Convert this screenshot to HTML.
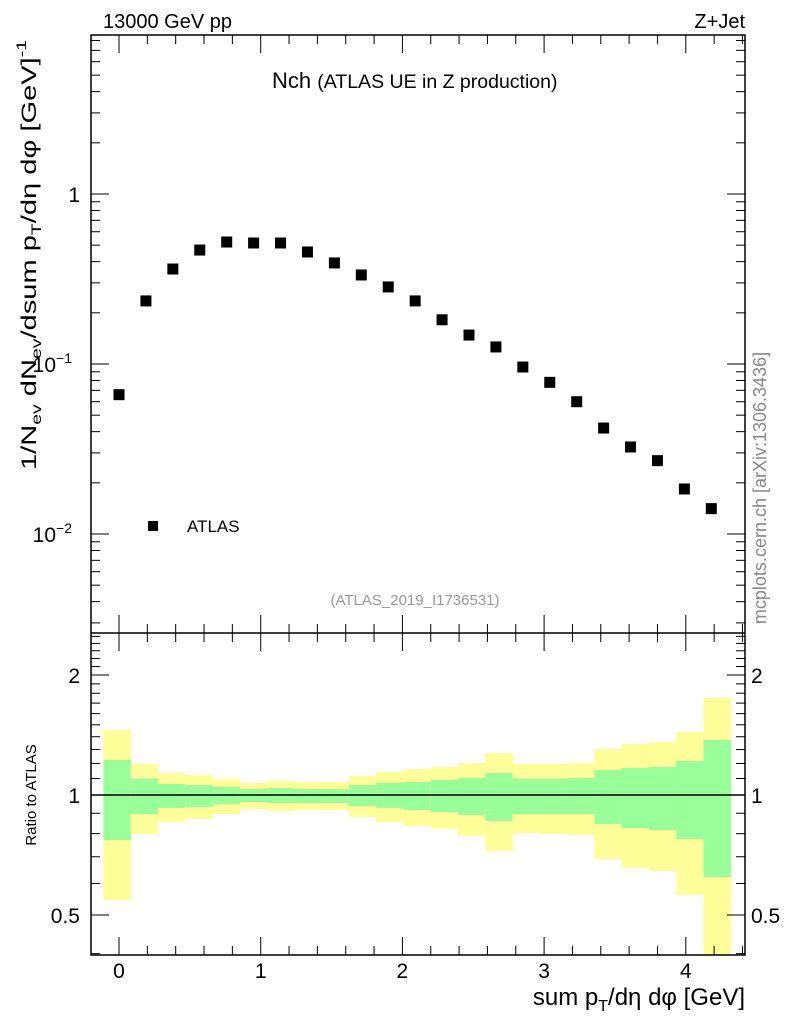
<!DOCTYPE html>
<html><head><meta charset="utf-8"><style>
body{margin:0;background:#fff;}
svg{display:block;font-family:"Liberation Sans",sans-serif;}
</style></head><body>
<svg id="c" width="786" height="1024" viewBox="0 0 786 1024" xmlns="http://www.w3.org/2000/svg">
<g id="bands"></g>
<g id="marks"></g>
<g id="axes"></g>
<text x="103" y="28" font-size="20">13000 GeV pp</text>
<text x="745" y="28" font-size="20" text-anchor="end">Z+Jet</text>
<text x="272" y="88" font-size="22">Nch <tspan font-size="19.5">(ATLAS UE in Z production)</tspan></text>
<text transform="translate(766,488) rotate(-90)" font-size="18" fill="#888" text-anchor="middle">mcplots.cern.ch [arXiv:1306.3436]</text>
<text x="415" y="605" font-size="15" fill="#999" text-anchor="middle">(ATLAS_2019_I1736531)</text>
<text transform="translate(36,470) rotate(-90)" font-size="21" textLength="430" lengthAdjust="spacingAndGlyphs">1/N<tspan font-size="14" dy="5">ev</tspan><tspan dy="-5"> dN</tspan><tspan font-size="14" dy="5">ev</tspan><tspan dy="-5">/dsum p</tspan><tspan font-size="14" dy="5">T</tspan><tspan dy="-5">/dη dφ  [GeV]</tspan><tspan font-size="14" dy="-10">-1</tspan></text>
<text transform="translate(36,795) rotate(-90)" font-size="15" text-anchor="middle">Ratio to ATLAS</text>
<text x="745" y="1005" font-size="24" text-anchor="end">sum p<tspan font-size="16" dy="6">T</tspan><tspan dy="-6">/dη dφ [GeV]</tspan></text>
<rect x="148" y="521" width="10" height="10" fill="#000"/>
<text x="187" y="532" font-size="17">ATLAS</text>
</svg>
<script>
const xCenters=[0,0.19,0.38,0.57,0.76,0.95,1.14,1.33,1.52,1.71,1.9,2.09,2.28,2.47,2.66,2.85,3.04,3.23,3.42,3.61,3.8,3.99,4.18];
const yValues=[0.066,0.235,0.362,0.468,0.522,0.515,0.515,0.456,0.393,0.334,0.284,0.235,0.182,0.148,0.126,0.096,0.078,0.060,0.042,0.0325,0.027,0.0184,0.0141];
const binEdgeStart=-0.11, binWidth=0.1925;
const yellowHi=[1.456,1.196,1.135,1.122,1.097,1.072,1.084,1.078,1.078,1.116,1.142,1.162,1.175,1.203,1.274,1.196,1.196,1.203,1.304,1.343,1.359,1.439,1.751];
const greenHi=[1.224,1.097,1.066,1.059,1.047,1.035,1.041,1.035,1.035,1.059,1.072,1.078,1.090,1.103,1.135,1.097,1.097,1.103,1.155,1.169,1.175,1.217,1.374];
const greenLo=[0.771,0.896,0.928,0.933,0.949,0.960,0.955,0.955,0.955,0.938,0.928,0.917,0.906,0.891,0.861,0.896,0.896,0.896,0.846,0.826,0.817,0.776,0.623];
const yellowLo=[0.545,0.798,0.856,0.871,0.896,0.922,0.912,0.917,0.917,0.881,0.856,0.836,0.822,0.789,0.724,0.803,0.798,0.794,0.691,0.656,0.645,0.562,0.35];
const xTickLabels=["0","1","2","3","4"];

const L=91,R=745,T=35,M=633,B=955;
const X=v=>119+v*141.7;
const Y=v=>194-Math.log10(v)*170;
const RY=v=>Math.max(T, Math.min(B, 795-Math.log10(v)*398.7));
const NS="http://www.w3.org/2000/svg";
function mk(p,tag,a){const e=document.createElementNS(NS,tag);for(const k in a)e.setAttribute(k,a[k]);p.appendChild(e);return e;}
const bands=document.getElementById('bands'),marks=document.getElementById('marks'),axes=document.getElementById('axes');
for(let i=0;i<xCenters.length;i++){
  const x0=X(binEdgeStart+i*binWidth),x1=X(binEdgeStart+(i+1)*binWidth);
  const y=mk(bands,'rect',{x:x0,y:RY(yellowHi[i]),width:x1-x0+0.3,height:RY(yellowLo[i])-RY(yellowHi[i]),fill:'#ffff99'});
  
  
  const g=mk(bands,'rect',{x:x0,y:RY(greenHi[i]),width:x1-x0+0.3,height:RY(greenLo[i])-RY(greenHi[i]),fill:'#99ff99'});
  
  
  const p=mk(marks,'rect',{x:X(xCenters[i])-5.5,y:Y(yValues[i])-5.5,width:11,height:11,fill:'#000'});
  
  
}
mk(axes,'line',{x1:L,x2:R,y1:RY(1),y2:RY(1),stroke:'#000','stroke-width':1.5});
mk(axes,'rect',{x:L,y:T,width:R-L,height:B-T,fill:'none',stroke:'#000','stroke-width':1.5});
mk(axes,'line',{x1:L,x2:R,y1:M,y2:M,stroke:'#000','stroke-width':1.5});
for(let k=-1;k<=22;k++){const v=k*0.2;const x=X(v);if(x<L||x>R)continue;
  const maj=Math.abs(v-Math.round(v))<1e-6;const len=maj?18:9;
  for(const [y0,d] of [[M,-1],[T,1],[B,-1],[M,1]])mk(axes,'line',{x1:x,x2:x,y1:y0,y2:y0+d*len,stroke:'#000'});
}
xTickLabels.forEach((s,i)=>{const t=mk(axes,'text',{x:X(i),y:978,'font-size':21,'text-anchor':'middle'});t.textContent=s;
  
  });
for(let e=-3;e<=0;e++)for(let m=1;m<=9;m++){const v=m*Math.pow(10,e);const y=Y(v);if(y<T||y>M)continue;
  const len=m==1?18:9;mk(axes,'line',{x1:L,x2:L+len,y1:y,y2:y,stroke:'#000'});mk(axes,'line',{x1:R,x2:R-len,y1:y,y2:y,stroke:'#000'});}
[["1",0],["10",-1],["10",-2]].forEach(([b,e])=>{const t=mk(axes,'text',{x:e==0?80:72,y:Y(Math.pow(10,e))+8,'font-size':21,'text-anchor':'end'});
  t.textContent=b;if(e<0){const s=mk(t,'tspan',{'font-size':14,dy:-9});s.textContent='−'+(-e);}
  
  });
for(let k=4;k<=25;k++){const v=k/10;const y=RY(v);if(y<=M||y>=B)continue;
  const len=(k==5||k==10||k==20)?18:9;mk(axes,'line',{x1:L,x2:L+len,y1:y,y2:y,stroke:'#000'});mk(axes,'line',{x1:R,x2:R-len,y1:y,y2:y,stroke:'#000'});}
[["2",2],["1",1],["0.5",0.5]].forEach(([s,v])=>{
  const t=mk(axes,'text',{x:80,y:RY(v)+8,'font-size':21,'text-anchor':'end'});t.textContent=s;
  
  
  const u=mk(axes,'text',{x:751,y:RY(v)+8,'font-size':21});u.textContent=s;
  
  });
</script>
</body></html>
